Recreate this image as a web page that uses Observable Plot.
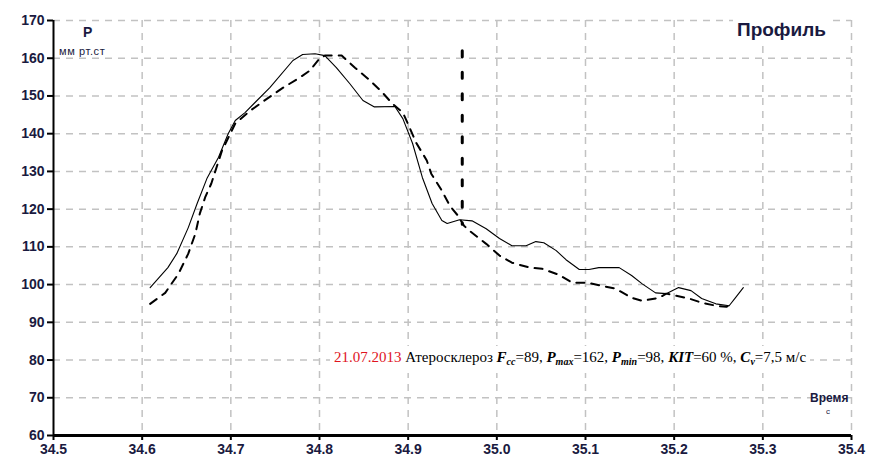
<!DOCTYPE html>
<html><head><meta charset="utf-8">
<script src="https://cdn.jsdelivr.net/npm/d3@7"></script>
<script src="https://cdn.jsdelivr.net/npm/@observablehq/plot@0.6"></script>
<style>
html,body{margin:0;padding:0;background:#fff;}
#wrap{position:relative;width:870px;height:465px;overflow:hidden;background:#fff;}
#wrap svg{font-family:"Liberation Sans",Arial,sans-serif;}
.lbl{position:absolute;white-space:nowrap;font-family:"Liberation Sans",Arial,sans-serif;color:#1a1a40;line-height:1;}
#note{position:absolute;white-space:nowrap;font-family:"Liberation Serif","Times New Roman",serif;font-size:15px;color:#000;background:#fff;padding:0 4px;line-height:22px;}
#note b{font-style:italic;}
#note sub{font-size:10px;vertical-align:-3px;font-weight:bold;font-style:italic;}
</style></head>
<body><div id="wrap"></div>
<script>
const xTicks = [34.5,34.6,34.7,34.8,34.9,35.0,35.1,35.2,35.3,35.4];
const yTicks = [60,70,80,90,100,110,120,130,140,150,160,170];
const xGrid = [34.6,34.7,34.8,34.9,35.0,35.1,35.2,35.3,35.4];
const yGrid = [70,80,90,100,110,120,130,140,150,160,170];

// Solid curve (time s, pressure mm Hg)
const solidT = [34.609,34.629,34.639,34.652,34.662,34.673,34.686,34.697,34.705,34.716,34.727,34.744,34.770,34.781,34.795,34.806,34.819,34.834,34.849,34.862,34.885,34.894,34.905,34.916,34.927,34.938,34.944,34.958,34.972,34.988,35.003,35.017,35.033,35.044,35.053,35.067,35.078,35.093,35.104,35.115,35.138,35.152,35.164,35.179,35.191,35.205,35.219,35.231,35.247,35.262,35.269,35.278];
const solidP = [99.2,104.5,108.2,115.1,121.5,128.1,133.7,140.0,143.5,145.6,148.2,152.2,159.4,161.0,161.2,160.7,157.5,153.3,148.8,147.1,147.2,144.0,137.4,128.4,121.5,117.0,116.2,117.2,116.9,114.8,112.2,110.3,110.3,111.4,111.1,109.0,106.6,104.0,104.0,104.5,104.5,102.4,100.2,97.8,97.6,99.2,98.4,96.3,94.9,94.4,96.5,99.2];

// Dashed curve
const dashT = [34.609,34.626,34.641,34.652,34.660,34.665,34.671,34.678,34.690,34.705,34.722,34.741,34.759,34.776,34.789,34.800,34.806,34.825,34.840,34.857,34.871,34.882,34.894,34.900,34.909,34.921,34.926,34.938,34.947,34.956,34.963,34.969,34.988,35.003,35.017,35.037,35.051,35.070,35.085,35.102,35.134,35.152,35.164,35.183,35.191,35.217,35.231,35.247,35.259,35.264];
const dashP = [94.9,97.8,102.9,108.2,113.5,118.8,123.1,126.8,135.5,142.7,146.1,149.3,152.2,154.6,156.7,159.9,160.7,160.7,157.5,154.1,150.9,148.0,145.6,142.5,137.6,132.9,129.4,124.9,120.9,118.3,115.6,114.3,110.8,107.7,105.8,104.5,104.2,102.6,100.5,100.5,98.9,96.5,95.7,96.5,97.6,96.3,95.2,94.4,94.1,94.9];

// Vertical marker
const markerT = [34.961, 34.961];
const markerP = [162, 116];

const solid = solidT.map((t,i)=>({t, p: solidP[i]}));
const dashed = dashT.map((t,i)=>({t, p: dashP[i]}));
const marker = markerT.map((t,i)=>({t, p: markerP[i]}));

const chart = Plot.plot({
  width: 870, height: 465,
  marginLeft: 53, marginRight: 19, marginTop: 20, marginBottom: 30,
  x: {domain: [34.5, 35.4]},
  y: {domain: [60, 170]},
  marks: [
    Plot.ruleX(xGrid, {stroke: "#c2c2c2", strokeWidth: 1.5, strokeDasharray: "7 6"}),
    Plot.ruleY(yGrid, {stroke: "#c2c2c2", strokeWidth: 1.5, strokeDasharray: "7 6"}),
    Plot.line(dashed, {x: "t", y: "p", stroke: "#000", strokeWidth: 2, strokeDasharray: "8,7"}),
    Plot.line(solid, {x: "t", y: "p", stroke: "#000", strokeWidth: 1.1}),
    Plot.line(marker, {x: "t", y: "p", stroke: "#000", strokeWidth: 3, strokeDasharray: "6,15.5"}),
    Plot.ruleX([34.5], {stroke: "#000", strokeWidth: 2}),
    Plot.ruleY([60], {stroke: "#000", strokeWidth: 3}),
    Plot.axisY({ticks: yTicks, tickSize: 6, tickPadding: 3, stroke: "#000", strokeWidth: 2,
      fill: "#1a1a40", fontSize: 14, fontWeight: "bold", label: null}),
    Plot.axisX({ticks: xTicks, tickSize: 5, tickPadding: 4, stroke: "#000", strokeWidth: 2,
      fill: "#1a1a40", fontSize: 14, fontWeight: "bold", label: null,
      tickFormat: d => d.toFixed(1)})
  ]
});
const wrap = document.getElementById("wrap");
wrap.appendChild(chart);

function addLabel(html, css, cls) {
  const d = document.createElement("div");
  d.className = cls || "lbl";
  d.innerHTML = html;
  d.style.cssText += css;
  wrap.appendChild(d);
  return d;
}
addLabel("P", "left:83px;top:25px;font-size:14px;font-weight:bold;");
addLabel("мм рт.ст", "left:59px;top:46px;font-size:11px;letter-spacing:0.6px;");
addLabel("Профиль", "left:733px;top:17px;font-size:19px;font-weight:bold;background:#fff;padding:3px 4px;");
addLabel("Время", "left:810px;top:392px;font-size:12px;font-weight:bold;");
addLabel("с", "left:826px;top:408px;font-size:8px;");
const note = addLabel('<span style="color:#e0141e">21.07.2013</span> Атеросклероз <b>F<sub>cc</sub></b>=89, <b>P<sub>max</sub></b>=162, <b>P<sub>min</sub></b>=98, <b>KIT</b>=60 %, <b>C<sub>v</sub></b>=7,5 м/с', "", "");
note.id = "note";
const w = note.getBoundingClientRect().width;
note.style.left = (570 - w/2) + "px";
note.style.top = "346px";
</script>
</body></html>
